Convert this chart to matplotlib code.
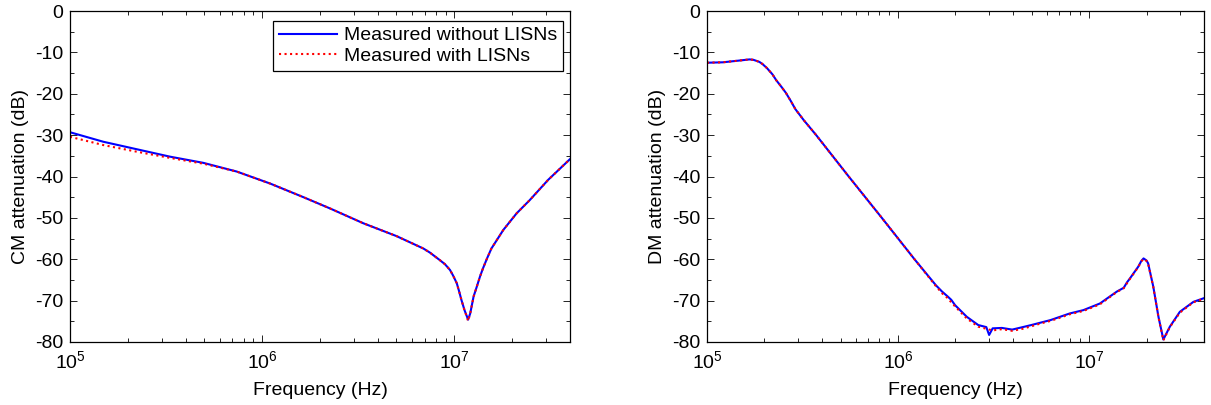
import matplotlib
matplotlib.use("Agg")
import matplotlib.pyplot as plt
from matplotlib.ticker import LogLocator, MultipleLocator

plt.rcParams["font.family"] = ["Liberation Sans", "DejaVu Sans"]
plt.rcParams["mathtext.fontset"] = "custom"
plt.rcParams["mathtext.rm"] = "Liberation Sans"
plt.rcParams["mathtext.it"] = "Liberation Sans:italic"
plt.rcParams["mathtext.bf"] = "Liberation Sans:bold"
plt.rcParams["axes.unicode_minus"] = False

# Common-mode attenuation (dB) versus frequency (Hz)
cm_freq = [1.0e5, 1.49e5, 2.22e5, 3.31e5, 4.94e5, 7.37e5, 1.1e6, 1.64e6,
           2.25e6, 3.36e6, 5.0e6, 6.9e6, 7.47e6, 8.4e6, 8.94e6, 9.5e6,
           9.87e6, 1.03e7, 1.06e7, 1.09e7, 1.13e7, 1.18e7, 1.21e7, 1.26e7,
           1.31e7, 1.36e7, 1.41e7, 1.48e7, 1.56e7, 1.80e7, 2.11e7, 2.47e7,
           3.08e7, 4.0e7]
cm_without = [-29.3, -31.6, -33.4, -35.2, -36.7, -38.8, -41.7, -45.0,
              -47.7, -51.3, -54.4, -57.4, -58.4, -60.2, -61.2, -62.6,
              -64.0, -65.8, -67.8, -69.9, -72.3, -74.6, -73.1, -69.0,
              -66.6, -64.2, -62.2, -59.8, -57.4, -52.9, -48.9, -45.7,
              -40.8, -35.8]
cm_with = [-30.4, -32.4, -34.0, -35.5, -36.9, -38.8, -41.7, -45.0,
           -47.7, -51.3, -54.4, -57.4, -58.4, -60.2, -61.2, -62.6,
           -64.0, -65.8, -67.8, -69.9, -72.3, -74.9, -73.1, -69.0,
           -66.6, -64.2, -62.2, -59.8, -57.4, -52.9, -48.9, -45.7,
           -40.8, -35.8]

# Differential-mode attenuation (dB) versus frequency (Hz)
dm_freq = [1.0e5, 1.21e5, 1.46e5, 1.67e5, 1.75e5, 1.88e5, 1.95e5, 2.06e5,
           2.2e5, 2.31e5, 2.45e5, 2.59e5, 2.75e5, 2.90e5, 3.2e5, 3.73e5,
           5.52e5, 8.23e5, 1.22e6, 1.58e6, 1.70e6, 1.82e6, 1.90e6, 1.99e6,
           2.29e6, 2.63e6, 2.90e6, 3.0e6, 3.13e6, 3.5e6, 3.96e6, 4.5e6,
           4.99e6, 5.6e6, 6.29e6, 7.93e6, 9.34e6, 1.14e7, 1.40e7, 1.52e7,
           1.58e7, 1.64e7, 1.81e7, 1.88e7, 1.93e7, 2.0e7, 2.04e7, 2.17e7,
           2.31e7, 2.45e7, 2.65e7, 2.99e7, 3.52e7, 4.0e7]
dm_without = [-12.5, -12.4, -12.0, -11.7, -11.8, -12.3, -12.8, -13.8,
              -15.3, -16.8, -18.3, -19.8, -21.8, -23.7, -26.3, -30.0,
              -40.0, -50.0, -60.0, -66.3, -67.8, -69.0, -69.8, -71.1,
              -73.9, -75.9, -76.4, -78.3, -76.7, -76.6, -77.0, -76.4,
              -75.9, -75.3, -74.7, -73.1, -72.3, -70.7, -67.8, -66.9,
              -65.6, -64.6, -61.8, -60.4, -59.8, -60.3, -61.0, -66.6,
              -73.9, -79.4, -76.3, -72.7, -70.3, -69.4]
dm_with = [-12.5, -12.4, -12.0, -11.7, -11.8, -12.3, -12.8, -13.8,
           -15.3, -16.8, -18.3, -19.8, -21.8, -23.7, -26.3, -30.0,
           -40.0, -50.0, -60.0, -66.5, -68.2, -69.4, -70.4, -71.4,
           -74.3, -76.3, -76.8, -77.0, -77.2, -76.9, -77.3, -76.8,
           -76.2, -75.5, -74.9, -73.3, -72.5, -70.9, -67.9, -67.0,
           -65.8, -64.7, -61.9, -60.5, -59.9, -60.4, -61.1, -66.7,
           -74.0, -79.6, -76.4, -72.9, -70.4, -69.5]

labels = ["Measured without LISNs", "Measured with LISNs"]
FS = 14

fig = plt.figure(figsize=(12.11, 4.05), dpi=100)
ax1 = fig.add_axes([70 / 1211, 1 - 342 / 405, 500 / 1211, 331 / 405])
ax2 = fig.add_axes([707 / 1211, 1 - 342 / 405, 497 / 1211, 331 / 405])


def style(ax, ylabel):
    ax.set_xscale("log")
    ax.set_xlim(1e5, 4e7)
    ax.set_ylim(-80, 0)
    ax.yaxis.set_major_locator(MultipleLocator(10))
    ax.yaxis.set_minor_locator(MultipleLocator(5))
    ax.xaxis.set_major_locator(LogLocator(base=10, numticks=10))
    ax.xaxis.set_minor_locator(LogLocator(base=10, subs=range(2, 10), numticks=20))
    ax.tick_params(which="both", direction="in", top=True, right=True,
                   labelsize=FS, width=0.6)
    ax.tick_params(which="major", length=5, pad=5)
    ax.tick_params(which="minor", length=3)
    ax.tick_params(axis="x", which="major", pad=6)
    for s in ax.spines.values():
        s.set_linewidth(0.9)
    ax.set_xlabel("Frequency (Hz)", fontsize=FS, labelpad=7)
    ax.set_ylabel(ylabel, fontsize=FS, labelpad=4)


ax1.plot(cm_freq, cm_without, color="blue", lw=1.5, ls="-", label=labels[0])
ax1.plot(cm_freq, cm_with, color="red", lw=1.5, ls=":", label=labels[1])
style(ax1, "CM attenuation (dB)")
leg = ax1.legend(loc="upper right", bbox_to_anchor=(0.986, 0.970),
                 borderaxespad=0, fontsize=FS, frameon=True, fancybox=False,
                 edgecolor="black", framealpha=1, handlelength=3.0,
                 borderpad=0.3, labelspacing=0.15, handletextpad=0.35)
leg.get_frame().set_linewidth(0.9)

ax2.plot(dm_freq, dm_without, color="blue", lw=1.5, ls="-")
ax2.plot(dm_freq, dm_with, color="red", lw=1.5, ls=":")
style(ax2, "DM attenuation (dB)")

fig.savefig("out.png", dpi=100)
